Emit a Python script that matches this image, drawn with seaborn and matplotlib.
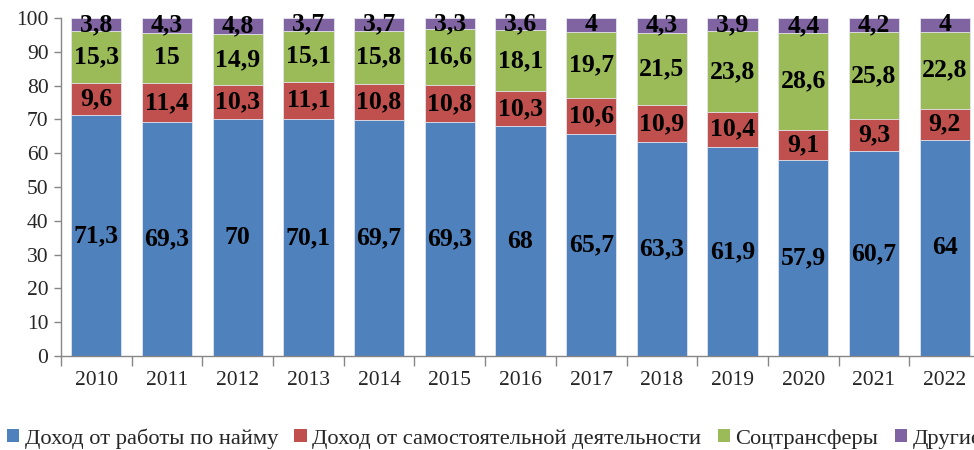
import matplotlib
matplotlib.use("Agg")
import matplotlib.pyplot as plt
import seaborn as sns
import pandas as pd
import numpy as np
from matplotlib.patches import Patch

years = ["2010", "2011", "2012", "2013", "2014", "2015", "2016", "2017", "2018", "2019", "2020", "2021", "2022"]
wages = [71.3, 69.3, 70, 70.1, 69.7, 69.3, 68, 65.7, 63.3, 61.9, 57.9, 60.7, 64]
selfemp = [9.6, 11.4, 10.3, 11.1, 10.8, 10.8, 10.3, 10.6, 10.9, 10.4, 9.1, 9.3, 9.2]
transfers = [15.3, 15, 14.9, 15.1, 15.8, 16.6, 18.1, 19.7, 21.5, 23.8, 28.6, 25.8, 22.8]
other = [3.8, 4.3, 4.8, 3.7, 3.7, 3.3, 3.6, 4, 4.3, 3.9, 4.4, 4.2, 4]
series_names = ["Доход от работы по найму", "Доход от самостоятельной деятельности", "Соцтрансферы", "Другие"]
colors = ["#4F81BD", "#C0504D", "#9BBB59", "#8064A2"]

sns.set_theme(style="white")
plt.rcParams["font.family"] = ["Liberation Serif", "DejaVu Serif"]

series = [wages, selfemp, transfers, other]
cum = np.cumsum(np.array(series, dtype=float), axis=0)

fig = plt.figure(figsize=(9.74, 4.5), dpi=100)
ax = fig.add_axes([61 / 974, 94 / 450, 919 / 974, 338 / 450])

# draw cumulative bars from top layer down so they overlap into a stack
for i in range(len(series) - 1, -1, -1):
    df = pd.DataFrame({"year": years, "val": cum[i]})
    sns.barplot(data=df, x="year", y="val", color=colors[i], saturation=1,
                width=0.71, edgecolor="#e6e6f0", linewidth=0.6, ax=ax)

def fmt(v):
    if float(v).is_integer():
        return str(int(v))
    return str(v).replace(".", ",")

for i, s in enumerate(series):
    base = cum[i] - np.array(s, dtype=float)
    for j, v in enumerate(s):
        ax.text(j, base[j] + v / 2, fmt(v), ha="center", va="center",
                fontsize=18.5, fontweight="bold", color="black")

ax.set_xlim(-0.5, 12.5)
ax.set_ylim(0, 100)
ax.set_yticks(range(0, 101, 10))
ax.set_xlabel("")
ax.set_ylabel("")
ax.tick_params(axis="y", labelsize=15.5, length=5, width=1, color="#868686", left=True, direction="out", pad=4)
ax.tick_params(axis="x", labelsize=15.5, length=0, pad=11)
# tick marks between categories
ax.set_xticks(np.arange(-0.5, 13, 1), minor=True)
ax.tick_params(axis="x", which="minor", length=7, width=1, color="#868686", bottom=True, direction="out")
for side in ["top", "right"]:
    ax.spines[side].set_visible(False)
for side in ["left", "bottom"]:
    ax.spines[side].set_color("#868686")
    ax.spines[side].set_linewidth(1)
ax.grid(False)

handles = [Patch(facecolor=c, edgecolor="none") for c in colors]
fig.legend(handles, series_names, loc="lower left", bbox_to_anchor=(0.0, -0.012),
           ncol=4, frameon=False, fontsize=16.2, handlelength=0.55, handleheight=0.55,
           handletextpad=0.25, columnspacing=0.72, borderaxespad=0.1, borderpad=0.2)

fig.savefig("out.png", dpi=100)
